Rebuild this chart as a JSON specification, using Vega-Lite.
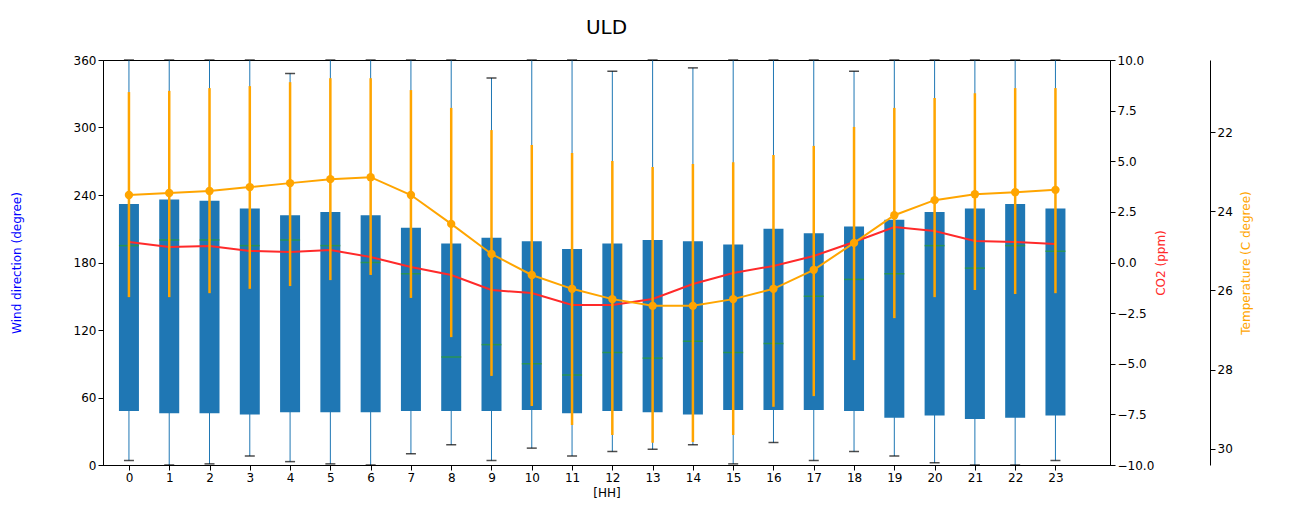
{
  "$schema": "https://vega.github.io/schema/vega-lite/v6.json",
  "width": 1007,
  "height": 405,
  "background": "white",
  "padding": {"left": 10, "top": 18, "right": 20, "bottom": 5},
  "title": {"text": "ULD", "fontSize": 20, "fontWeight": "normal", "font": "DejaVu Sans", "offset": 16},
  "config": {
    "font": "DejaVu Sans",
    "view": {"stroke": "black"},
    "axis": {"grid": false, "labelFontSize": 12, "titleFontSize": 12, "titleFontWeight": "normal", "domainColor": "black", "tickColor": "black", "labelColor": "black"}
  },
  "data": {
    "values": [
      {"HH": 0, "q1": 48, "q3": 232, "med": 195, "wlo": 4, "whi": 360, "co2": 1.01, "t": 23.59, "tlo": 20.99, "thi": 26.17},
      {"HH": 1, "q1": 46, "q3": 236, "med": 200, "wlo": 0, "whi": 360, "co2": 0.77, "t": 23.54, "tlo": 20.96, "thi": 26.17},
      {"HH": 2, "q1": 46, "q3": 235, "med": 200, "wlo": 1, "whi": 360, "co2": 0.81, "t": 23.49, "tlo": 20.89, "thi": 26.07},
      {"HH": 3, "q1": 45, "q3": 228, "med": 195, "wlo": 8, "whi": 360, "co2": 0.57, "t": 23.39, "tlo": 20.84, "thi": 25.96},
      {"HH": 4, "q1": 47, "q3": 222, "med": 200, "wlo": 3, "whi": 348, "co2": 0.52, "t": 23.29, "tlo": 20.74, "thi": 25.89},
      {"HH": 5, "q1": 47, "q3": 225, "med": 195, "wlo": 1, "whi": 360, "co2": 0.62, "t": 23.19, "tlo": 20.64, "thi": 25.74},
      {"HH": 6, "q1": 47, "q3": 222, "med": 180, "wlo": 0, "whi": 360, "co2": 0.27, "t": 23.14, "tlo": 20.64, "thi": 25.61},
      {"HH": 7, "q1": 48, "q3": 211, "med": 170, "wlo": 10, "whi": 360, "co2": -0.22, "t": 23.59, "tlo": 20.94, "thi": 26.19},
      {"HH": 8, "q1": 48, "q3": 197, "med": 96, "wlo": 18, "whi": 360, "co2": -0.62, "t": 24.32, "tlo": 21.39, "thi": 27.18},
      {"HH": 9, "q1": 48, "q3": 202, "med": 107, "wlo": 4, "whi": 344, "co2": -1.36, "t": 25.08, "tlo": 21.95, "thi": 28.16},
      {"HH": 10, "q1": 49, "q3": 199, "med": 90, "wlo": 15, "whi": 360, "co2": -1.51, "t": 25.61, "tlo": 22.33, "thi": 28.92},
      {"HH": 11, "q1": 46, "q3": 192, "med": 80, "wlo": 8, "whi": 360, "co2": -2.1, "t": 25.96, "tlo": 22.53, "thi": 29.4},
      {"HH": 12, "q1": 48, "q3": 197, "med": 100, "wlo": 12, "whi": 350, "co2": -2.1, "t": 26.22, "tlo": 22.73, "thi": 29.65},
      {"HH": 13, "q1": 47, "q3": 200, "med": 95, "wlo": 14, "whi": 360, "co2": -1.8, "t": 26.39, "tlo": 22.88, "thi": 29.85},
      {"HH": 14, "q1": 45, "q3": 199, "med": 110, "wlo": 18, "whi": 353, "co2": -1.06, "t": 26.39, "tlo": 22.81, "thi": 29.83},
      {"HH": 15, "q1": 49, "q3": 196, "med": 100, "wlo": 1, "whi": 360, "co2": -0.52, "t": 26.22, "tlo": 22.76, "thi": 29.65},
      {"HH": 16, "q1": 49, "q3": 210, "med": 108, "wlo": 20, "whi": 360, "co2": -0.17, "t": 25.96, "tlo": 22.58, "thi": 28.94},
      {"HH": 17, "q1": 49, "q3": 206, "med": 150, "wlo": 4, "whi": 360, "co2": 0.32, "t": 25.48, "tlo": 22.35, "thi": 28.67},
      {"HH": 18, "q1": 48, "q3": 212, "med": 165, "wlo": 12, "whi": 350, "co2": 1.01, "t": 24.8, "tlo": 21.87, "thi": 27.76},
      {"HH": 19, "q1": 42, "q3": 218, "med": 170, "wlo": 8, "whi": 360, "co2": 1.75, "t": 24.1, "tlo": 21.39, "thi": 26.7},
      {"HH": 20, "q1": 44, "q3": 225, "med": 195, "wlo": 2, "whi": 360, "co2": 1.56, "t": 23.72, "tlo": 21.14, "thi": 26.17},
      {"HH": 21, "q1": 41, "q3": 228, "med": 175, "wlo": 0, "whi": 360, "co2": 1.06, "t": 23.57, "tlo": 21.02, "thi": 25.99},
      {"HH": 22, "q1": 42, "q3": 232, "med": 195, "wlo": 0, "whi": 360, "co2": 1.01, "t": 23.52, "tlo": 20.89, "thi": 26.09},
      {"HH": 23, "q1": 44, "q3": 228, "med": 190, "wlo": 4, "whi": 360, "co2": 0.91, "t": 23.46, "tlo": 20.89, "thi": 26.07}
    ]
  },
  "encoding": {
    "x": {
      "field": "HH", "type": "quantitative", "title": "[HH]",
      "scale": {"domain": [-0.52, 24.23], "nice": false, "zero": false},
      "axis": {"values": [0,1,2,3,4,5,6,7,8,9,10,11,12,13,14,15,16,17,18,19,20,21,22,23], "labelFlush": false}
    }
  },
  "layer": [
    {
      "layer": [
        {
          "mark": {"type": "rule", "color": "#1f77b4", "strokeWidth": 1},
          "encoding": {
            "y": {"field": "wlo", "type": "quantitative", "scale": {"domain": [0, 360], "nice": false}, "title": "Wind direction (degree)",
              "axis": {"values": [0, 60, 120, 180, 240, 300, 360], "titleColor": "blue", "titlePadding": 50}},
            "y2": {"field": "whi"}
          }
        },
        {
          "mark": {"type": "bar", "color": "#1f77b4", "width": 20},
          "encoding": {"y": {"field": "q1", "type": "quantitative"}, "y2": {"field": "q3"}}
        },
        {
          "mark": {"type": "tick", "orient": "horizontal", "color": "#2ca02c", "size": 20, "thickness": 1.5},
          "encoding": {"y": {"field": "med", "type": "quantitative"}}
        },
        {
          "mark": {"type": "tick", "orient": "horizontal", "color": "black", "size": 10, "thickness": 1.5},
          "encoding": {"y": {"field": "wlo", "type": "quantitative"}}
        },
        {
          "mark": {"type": "tick", "orient": "horizontal", "color": "black", "size": 10, "thickness": 1.5},
          "encoding": {"y": {"field": "whi", "type": "quantitative"}}
        }
      ]
    },
    {
      "mark": {"type": "line", "color": "#ff2a2a", "strokeWidth": 2},
      "encoding": {
        "y": {"field": "co2", "type": "quantitative", "title": "CO2 (ppm)",
          "scale": {"domain": [-10, 10], "nice": false},
          "axis": {"orient": "right", "values": [-10, -7.5, -5, -2.5, 0, 2.5, 5, 7.5, 10], "format": ".1f", "titleColor": "#ff2a2a", "titleAngle": 270, "titlePadding": 14}}
      }
    },
    {
      "layer": [
        {
          "mark": {"type": "rule", "color": "orange", "strokeWidth": 2.5},
          "encoding": {
            "y": {"field": "tlo", "type": "quantitative", "title": "Temperature (C degree)",
              "scale": {"domain": [20.18, 30.41], "nice": false, "zero": false, "reverse": true},
              "axis": {"orient": "right", "offset": 100, "values": [22, 24, 26, 28, 30], "titleColor": "orange", "titleAngle": 270, "titlePadding": 20}},
            "y2": {"field": "thi"}
          }
        },
        {
          "mark": {"type": "line", "color": "orange", "strokeWidth": 2, "point": {"color": "orange", "size": 70, "filled": true}},
          "encoding": {"y": {"field": "t", "type": "quantitative"}}
        }
      ]
    }
  ],
  "resolve": {"scale": {"y": "independent"}}
}
